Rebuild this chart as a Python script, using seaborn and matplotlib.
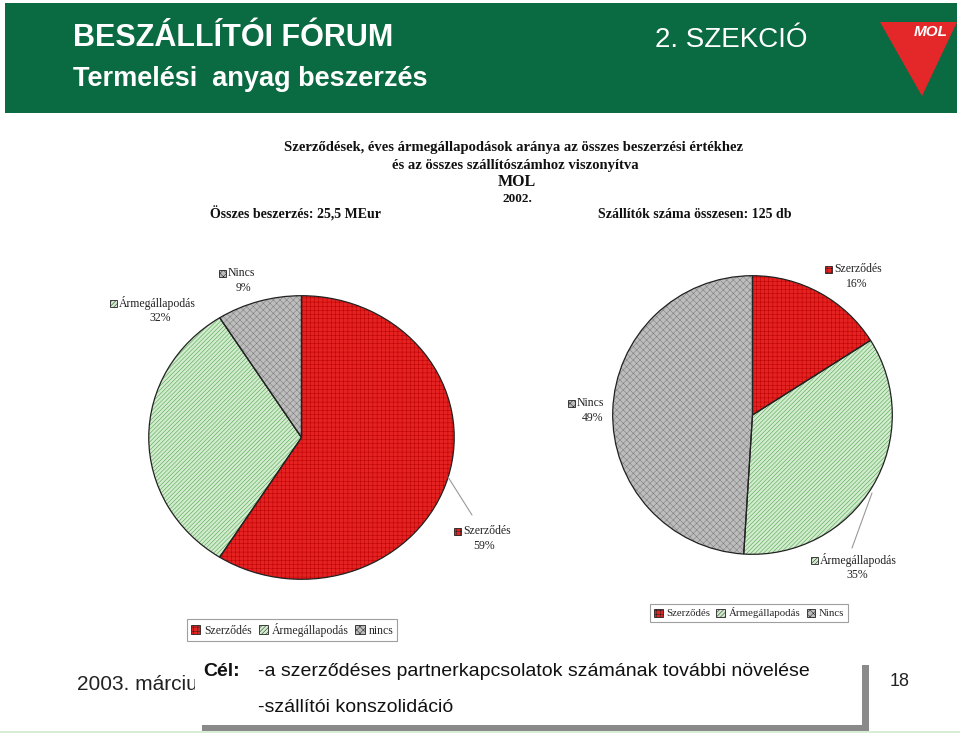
import matplotlib
matplotlib.use("Agg")
import matplotlib.pyplot as plt
import seaborn as sns
from matplotlib.patches import Rectangle, Polygon, Patch
from matplotlib.lines import Line2D

# ---------------- data ----------------
categories = ["Szerződés", "Ármegállapodás", "Nincs"]
value_share = [59, 32, 9]          # share of total purchase value (%)
supplier_share = [16, 35, 49]      # share of number of suppliers (%)
legend_left = ["Szerződés", "Ármegállapodás", "nincs"]
legend_right = ["Szerződés", "Ármegállapodás", "Nincs"]

title = "BESZÁLLÍTÓI FÓRUM"
subtitle = "Termelési  anyag beszerzés"
section = "2. SZEKCIÓ"
chart_title_1 = "Szerződések, éves ármegállapodások aránya az összes beszerzési értékhez"
chart_title_2 = "és az összes szállítószámhoz viszonyítva"
company = "MOL"
year = "2002."
total_value = "Összes beszerzés: 25,5 MEur"
total_suppliers = "Szállítók száma összesen: 125 db"
goal_lines = ["-a szerződéses partnerkapcsolatok számának további növelése",
              "-szállítói konszolidáció"]
date_text = "2003. március"
page_no = "18"

# ---------------- style ----------------
sns.set_theme(style="white")
plt.rcParams["font.family"] = ["Liberation Sans", "DejaVu Sans"]
plt.rcParams["hatch.linewidth"] = 0.35

face = ["#e52222", "#d2ecce", "#bdbdbd"]
hcol = ["#b80000", "#3f9a3f", "#7a7a7a"]
hatches = ["++++", "////////", "xxxxx"]

W, H = 960, 733
fig = plt.figure(figsize=(W / 100, H / 100), dpi=100)
fig.patch.set_facecolor("white")


def fx(x):
    return x / W


def fy(y):
    return 1 - y / H


def ftext(x, y, s, **kw):
    return fig.text(fx(x), fy(y), s, **kw)


# ---------------- header ----------------
fig.patches.append(Rectangle((fx(5), fy(113)), fx(957) - fx(5), fy(3) - fy(113),
                             transform=fig.transFigure, facecolor="#0a6a41",
                             edgecolor="none", zorder=0))
ftext(73, 38, title, color="white", fontsize=22, fontweight="bold",
      va="center", ha="left")
ftext(73, 79, subtitle, color="white", fontsize=19.5, fontweight="bold",
      va="center", ha="left")
ftext(655, 40, section, color="white", fontsize=20,
      va="center", ha="left")
fig.patches.append(Polygon([(fx(880), fy(22)), (fx(957), fy(22)), (fx(922), fy(96))],
                           closed=True, transform=fig.transFigure,
                           facecolor="#e4282a", edgecolor="none", zorder=1))
ftext(931, 32, "MOL", color="white", fontsize=11, fontweight="bold", style="italic",
      va="center", ha="center", zorder=2)

# ---------------- chart titles ----------------
serif = ["Liberation Serif", "DejaVu Serif"]
ftext(514, 148, chart_title_1, fontsize=10.5, fontweight="bold", family=serif,
      ha="center", va="center", color="#111111")
ftext(515, 165, chart_title_2, fontsize=10.5, fontweight="bold", family=serif,
      ha="center", va="center", color="#111111")
ftext(517, 182, company, fontsize=11.5, fontweight="bold", family=serif,
      ha="center", va="center", color="#111111")
ftext(517, 199, year, fontsize=9.5, fontweight="bold", family=serif,
      ha="center", va="center", color="#111111")
ftext(296, 214, total_value, fontsize=10, fontweight="bold", family=serif,
      ha="center", va="center", color="#111111")
ftext(695, 214, total_suppliers, fontsize=10, fontweight="bold", family=serif,
      ha="center", va="center", color="#111111")


# ---------------- pies ----------------
def draw_pie(box, values):
    x0, y0, x1, y1 = box
    ax = fig.add_axes([fx(x0), fy(y1), fx(x1) - fx(x0), fy(y0) - fy(y1)])
    wedges, _ = ax.pie(values, startangle=90, counterclock=False, radius=1,
                       colors=face, wedgeprops=dict(linewidth=0))
    for w, h, c in zip(wedges, hatches, hcol):
        w.set_hatch(h)
        w.set_edgecolor(c)
        w.set_linewidth(0)
    ax.pie(values, startangle=90, counterclock=False, radius=1,
           colors=["none"] * len(values),
           wedgeprops=dict(linewidth=0.9, edgecolor="#222222", fill=False))
    ax.set_aspect("auto")
    ax.set_xlim(-1.005, 1.005)
    ax.set_ylim(-1.005, 1.005)
    ax.axis("off")
    return ax


draw_pie((148, 295, 455, 580), value_share)
draw_pie((612, 275, 893, 555), supplier_share)


def pie_label(x, y, idx, pct, cx):
    # x: marker left, y: first line center, cx: center of percent line
    fig.patches.append(Rectangle((fx(x), fy(y + 3.5)), 7 / W, 7 / H,
                                 transform=fig.transFigure, facecolor=face[idx],
                                 hatch=hatches[idx], edgecolor="#222222",
                                 linewidth=0.6, zorder=3))
    ftext(x + 9, y, categories[idx], fontsize=8.5, family=serif,
          ha="left", va="center", color="#222222")
    ftext(cx, y + 15, f"{pct}%", fontsize=8.5, family=serif,
          ha="center", va="center", color="#222222")


pie_label(219, 273, 2, value_share[2], 243)
pie_label(110, 303, 1, value_share[1], 160)
pie_label(454, 531, 0, value_share[0], 484)
pie_label(825, 269, 0, supplier_share[0], 857)
pie_label(568, 403, 2, supplier_share[2], 593)
pie_label(811, 560, 1, supplier_share[1], 857)

fig.lines.append(Line2D([fx(448), fx(472)], [fy(477), fy(515)],
                        transform=fig.transFigure, color="#999999", lw=0.8))
fig.lines.append(Line2D([fx(872), fx(852)], [fy(493), fy(548)],
                        transform=fig.transFigure, color="#999999", lw=0.8))

# ---------------- legends ----------------
handles = [Patch(facecolor=face[i], hatch=hatches[i], edgecolor="#222222", linewidth=0.6)
           for i in range(3)]


def make_legend(labels, center, size):
    lg = fig.legend(handles, labels, loc="center", bbox_to_anchor=(fx(center[0]), fy(center[1])),
                    ncol=3, frameon=True, fancybox=False,
                    handlelength=0.8, handleheight=0.8, handletextpad=0.3,
                    columnspacing=0.6, borderpad=0.35, borderaxespad=0,
                    prop={"family": serif, "size": size})
    lg.get_frame().set_edgecolor("#888888")
    lg.get_frame().set_linewidth(0.8)
    return lg


make_legend(legend_left, (292, 630), 8.5)
make_legend(legend_right, (749, 613), 7.8)

# ---------------- footer ----------------
ftext(77, 684, date_text, fontsize=15, ha="left", va="center",
      color="#222222", zorder=1)
fig.patches.append(Rectangle((fx(202), fy(731)), fx(869) - fx(202), fy(665) - fy(731),
                             transform=fig.transFigure, facecolor="#8a8a8a",
                             edgecolor="none", zorder=4))
fig.patches.append(Rectangle((fx(195), fy(725)), fx(862) - fx(195), fy(657) - fy(725),
                             transform=fig.transFigure, facecolor="white",
                             edgecolor="none", zorder=5))
ftext(203, 672, "Cél:", fontsize=14, fontweight="bold",
      ha="left", va="center", color="#111111", zorder=6)
ftext(258, 672, goal_lines[0], fontsize=14,
      ha="left", va="center", color="#111111", zorder=6)
ftext(258, 708, goal_lines[1], fontsize=14,
      ha="left", va="center", color="#111111", zorder=6)
ftext(900, 681, page_no, fontsize=13, ha="center", va="center",
      color="#222222")
fig.lines.append(Line2D([0, 1], [fy(732), fy(732)], transform=fig.transFigure,
                        color="#d8ecd8", lw=1.5))

fig.savefig("out.png", dpi=100)
